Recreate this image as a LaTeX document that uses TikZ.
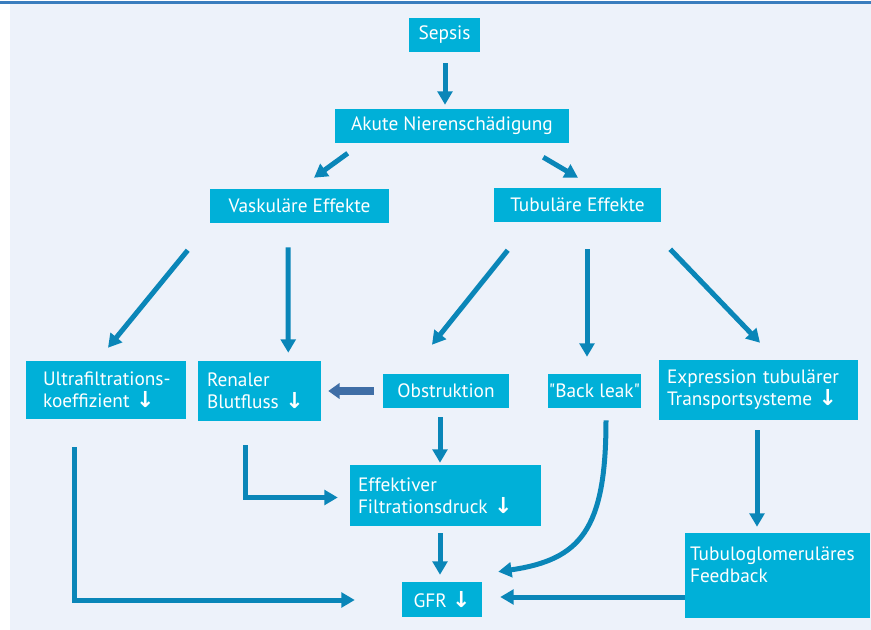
\documentclass[tikz,border=0pt]{standalone}
\usepackage{fontspec}
\setmainfont{PT Sans}[Ligatures=TeXOff]
\newfontfamily\arrfont{DejaVu Sans}
\usetikzlibrary{arrows.meta,calc}
\definecolor{boxc}{HTML}{00B0D8}
\definecolor{arrc}{HTML}{0A86B8}
\definecolor{bgc}{HTML}{EDF2FA}
\definecolor{topc}{HTML}{3A7DBE}
\definecolor{blockc}{HTML}{3F6EA6}
\newcommand\dn{ {\arrfont\bfseries\fontsize{16.5}{16.5}\selectfont ↓}}
\begin{document}
\begin{tikzpicture}[x=0.75pt,y=-0.75pt,
 box/.style={fill=boxc, text=white, inner sep=0pt, font=\fontsize{14.5}{16.5}\selectfont, align=center},
 mbox/.style={box, align=left},
 conn/.style={draw=arrc, line width=3.75pt, -{Triangle[width=11pt,length=10pt]}},
 blockarr/.style={draw=blockc, line width=6pt, -{Triangle[width=11.5pt,length=8.5pt]}},
]
\useasboundingbox (0,0) rectangle (871,630);
\fill[bgc] (10,4) rectangle (871,630);
\fill[topc] (0,1.5) rectangle (871,3.8);

\node[box, minimum width=53.25pt, minimum height=25.5pt] (sepsis) at (444.5,35) {Sepsis};
\node[box, minimum width=175.5pt, minimum height=25.5pt] (aki) at (452,126) {Akute Nierenschädigung};
\node[box, minimum width=134.25pt, minimum height=25.5pt] (vask) at (299.5,206) {Vaskuläre Effekte};
\node[box, minimum width=125.25pt, minimum height=25.5pt] (tub) at (577.5,205) {Tubuläre Effekte};
\node[mbox, inner xsep=12.75pt, text width=94.5pt, minimum height=43.5pt] (ultra) at (106,390) {\mbox{Ultrafiltrations-}\\\mbox{koeffizient\dn}};
\node[mbox, inner xsep=6.75pt, text width=78.75pt, minimum height=45pt] (renal) at (259.5,391) {\mbox{Renaler}\\\mbox{Blutfluss\dn}};
\node[box, minimum width=94.5pt, minimum height=25.5pt] (obst) at (446,391) {Obstruktion};
\node[box, minimum width=69.75pt, minimum height=25.5pt] (back) at (594.5,391) {"Back leak"};
\node[mbox, inner xsep=6pt, text width=137.25pt, minimum height=45pt] (expr) at (758.5,390) {\mbox{Expression tubulärer}\\\mbox{Transportsysteme\dn}};
\node[mbox, inner xsep=6pt, text width=131.25pt, minimum height=45.75pt] (eff) at (445.5,495.5) {\mbox{Effektiver}\\\mbox{Filtrationsdruck\dn}};
\node[mbox, inner xsep=3.75pt, text width=131.25pt, minimum height=63.75pt] (tgf) at (777.5,575.5) {\mbox{Tubuloglomeruläres}\\\mbox{Feedback}\\\mbox{}};
\node[box, minimum width=60pt, minimum height=26.25pt] (gfr) at (442,599.5) {GFR\dn};

\draw[conn] ($(sepsis.south)+(0.5,11)$) -- ($(sepsis.south |- aki.north)+(0.5,-4)$);
\draw[conn] ($(aki.south west)+(13,10)$) -- ($(vask.north)+(14.5,-11)$);
\draw[conn] ($(aki.south east)+(-26,14)$) -- ($(tub.north)+(0.5,-10)$);
\draw[conn] ($(vask.south west)+(-22,27)$) -- ($(ultra.north)+(2,-13)$);
\draw[conn] ($(vask.south)+(-11.5,24)$) -- ($(renal.north east)+(-33,-8)$);
\draw[conn] ($(tub.south west)+(14,28)$) -- ($(obst.north)+(-14,-29)$);
\draw[conn] ($(tub.south)+(9.5,27)$) -- ($(back.north)+(-7.5,-17)$);
\draw[conn] ($(tub.south east)+(9,27)$) -- ($(expr.north)+(1.5,-17)$);
\draw[blockarr] ($(obst.west)+(-9,0)$) -- ($(renal.east)+(7,0)$);
\draw[conn] ($(obst.south)+(-6,9)$) -- ($(eff.north)+(-5.5,-2)$);
\draw[conn] ($(renal.south)+(-14.5,24)$) |- ($(eff.west)+(-12,2)$);
\draw[conn] ($(ultra.south)+(-32,28)$) |- ($(gfr.west)+(-47,0.5)$);
\draw[conn] ($(eff.south)+(-5.5,7)$) -- ($(gfr.north)+(-2,-7)$);
\draw[conn] ($(back.south)+(11.5,12)$) .. controls ($(back.south)+(11.5,122)$) and ($(gfr.north east)+(98,-22)$) .. ($(gfr.north east)+(16,-10)$);
\draw[conn] ($(tgf.west)+(0,21.5)$) -- ($(gfr.east)+(18,-2.5)$);
\draw[conn] ($(expr.south)+(-1.5,10)$) -- ($(expr.south |- tgf.north)+(-1.5,-6)$);
\end{tikzpicture}
\end{document}
